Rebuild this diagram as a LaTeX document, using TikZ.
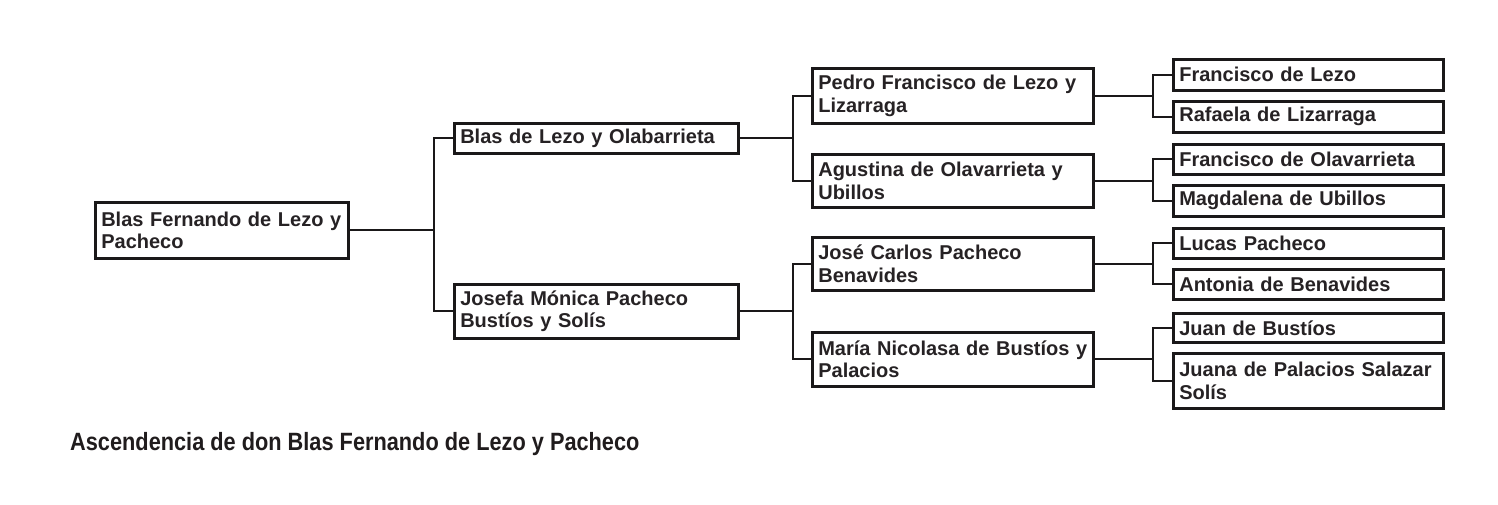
\documentclass[tikz,border=0pt]{standalone}
\usepackage{fontspec}
\setmainfont{Liberation Sans}
\newfontfamily\capfont[FakeStretch=0.87]{Liberation Sans}
\definecolor{ink}{HTML}{262224}
\definecolor{rule}{HTML}{1A1819}
\definecolor{captxt}{HTML}{201C1D}
\tikzset{
  person/.style={draw=rule, line width=2.6pt, fill=white, inner xsep=6pt, inner ysep=0pt,
    align=left, anchor=north west, text=ink,
    font=\fontsize{20}{22.5}\selectfont\bfseries},
  link/.style={draw=rule, line width=2.2pt},
}
\begin{document}
\begin{tikzpicture}[x=1pt,y=-1pt]
\useasboundingbox[fill=white] (0,0) rectangle (1498,504);
% generation 0
\node[person, text width=241pt, minimum width=253pt, minimum height=56pt] (root) at (94,201) {Blas Fernando de Lezo y\\Pacheco};
% generation 1
\node[person, text width=272pt, minimum width=284pt, minimum height=30pt] (blas) at (453,122) {Blas de Lezo y Olabarrieta};
\node[person, text width=272pt, minimum width=284pt, minimum height=54pt] (josefa) at (453,283) {Josefa Mónica Pacheco\\Bustíos y Solís};
% generation 2
\node[person, text width=269pt, minimum width=281pt, minimum height=55pt] (pedro) at (811,67) {Pedro Francisco de Lezo y\\Lizarraga};
\node[person, text width=269pt, minimum width=281pt, minimum height=53pt] (agustina) at (811,153) {Agustina de Olavarrieta y\\Ubillos};
\node[person, text width=269pt, minimum width=281pt, minimum height=53pt] (jose) at (811,236) {José Carlos Pacheco\\Benavides};
\node[person, text width=269pt, minimum width=281pt, minimum height=54pt] (maria) at (811,331) {María Nicolasa de Bustíos y\\Palacios};
% generation 3
\node[person, text width=258pt, minimum width=270pt, minimum height=31pt] (fl) at (1172,58) {Francisco de Lezo};
\node[person, text width=258pt, minimum width=270pt, minimum height=31pt] (rl) at (1172,100) {Rafaela de Lizarraga};
\node[person, text width=258pt, minimum width=270pt, minimum height=30pt] (fo) at (1172,143) {Francisco de Olavarrieta};
\node[person, text width=258pt, minimum width=270pt, minimum height=31pt] (mu) at (1172,184) {Magdalena de Ubillos};
\node[person, text width=258pt, minimum width=270pt, minimum height=30pt] (lp) at (1172,227) {Lucas Pacheco};
\node[person, text width=258pt, minimum width=270pt, minimum height=30pt] (ab) at (1172,268) {Antonia de Benavides};
\node[person, text width=258pt, minimum width=270pt, minimum height=29pt] (jb) at (1172,312) {Juan de Bustíos};
\node[person, text width=258pt, minimum width=270pt, minimum height=55pt] (jp) at (1172,352) {Juana de Palacios Salazar\\Solís};
% bar positions
\coordinate (b1) at (434,0);
\coordinate (b2) at (793,0);
\coordinate (b3) at (1153,0);
% connectors
\draw[link] (root.east) -- (root.east -| b1) |- (blas.west);
\draw[link] (root.east -| b1) |- (josefa.west);
\draw[link] (blas.east) -- (blas.east -| b2) |- (pedro.west);
\draw[link] (blas.east -| b2) |- (agustina.west);
\draw[link] (josefa.east) -- (josefa.east -| b2) |- (jose.west);
\draw[link] (josefa.east -| b2) |- (maria.west);
\draw[link] (pedro.east) -- (pedro.east -| b3) |- (fl.west);
\draw[link] (pedro.east -| b3) |- (rl.west);
\draw[link] (agustina.east) -- (agustina.east -| b3) |- (fo.west);
\draw[link] (agustina.east -| b3) |- (mu.west);
\draw[link] (jose.east) -- (jose.east -| b3) |- (lp.west);
\draw[link] (jose.east -| b3) |- (ab.west);
\draw[link] (maria.east) -- (maria.east -| b3) |- (jb.west);
\draw[link] (maria.east -| b3) |- (jp.west);
% caption
\node[anchor=base west, inner sep=0pt, text=captxt, font=\fontsize{25}{30}\capfont\bfseries\selectfont] (cap) at (70,450) {Ascendencia de don Blas Fernando de Lezo y Pacheco};
\end{tikzpicture}
\end{document}
